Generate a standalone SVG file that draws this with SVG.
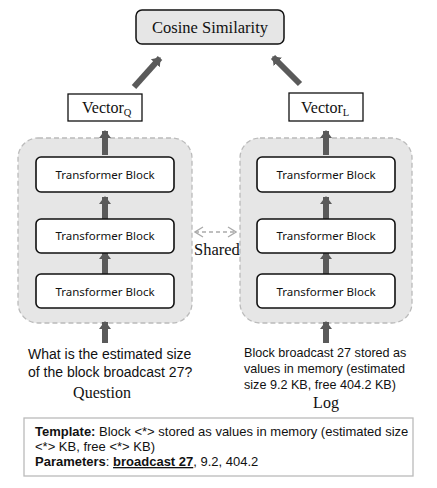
<svg xmlns="http://www.w3.org/2000/svg" width="437" height="488" viewBox="0 0 437 488">
<defs>
<style>
.serif{font-family:"Liberation Serif","Times New Roman",serif;fill:#111}
.sans{font-family:"Liberation Sans",Arial,sans-serif;fill:#111}
.tb{font-family:"Noto Sans","DejaVu Sans",sans-serif;font-size:11.5px;fill:#111}
.blk{fill:#fff;stroke:#111;stroke-width:1.6}
.cont{fill:#e6e6e6;stroke:#bbb;stroke-width:1.3;stroke-dasharray:5 3}
.arr{stroke:#5a5a5a;stroke-width:6;fill:none}
</style>
<marker id="ah" markerUnits="userSpaceOnUse" markerWidth="14" markerHeight="14" viewBox="0 0 14 14" refX="7" refY="7" orient="auto">
<path d="M0,1 L8,7 L0,13 Z" fill="#5a5a5a"/>
</marker>
<marker id="oh" markerUnits="userSpaceOnUse" markerWidth="10" markerHeight="12" viewBox="0 0 10 12" refX="9" refY="6" orient="auto-start-reverse">
<path d="M1,1 L9,6 L1,11" fill="none" stroke="#aaa" stroke-width="1.3"/>
</marker>
</defs>
<rect width="437" height="488" fill="#fff"/>

<g id="container-left"><rect class="cont" x="18" y="138" width="174" height="185" rx="20"/></g>
<g id="container-right"><rect class="cont" x="240" y="138" width="172" height="185" rx="20"/></g>

<g id="connectors">
<line class="arr" x1="134" y1="87" x2="160" y2="58" marker-end="url(#ah)"/>
<line class="arr" x1="300" y1="84" x2="273" y2="57" marker-end="url(#ah)"/>
<line class="arr" x1="105" y1="155" x2="105" y2="131" marker-end="url(#ah)"/>
<line class="arr" x1="326" y1="155" x2="326" y2="131" marker-end="url(#ah)"/>
<line class="arr" x1="105" y1="219" x2="105" y2="197" marker-end="url(#ah)"/>
<line class="arr" x1="326" y1="219" x2="326" y2="197" marker-end="url(#ah)"/>
<line class="arr" x1="105" y1="274" x2="105" y2="252" marker-end="url(#ah)"/>
<line class="arr" x1="326" y1="274" x2="326" y2="252" marker-end="url(#ah)"/>
<line class="arr" x1="105" y1="343" x2="105" y2="322" marker-end="url(#ah)"/>
<line class="arr" x1="326" y1="343" x2="326" y2="322" marker-end="url(#ah)"/>
<line x1="195" y1="232" x2="236" y2="232" stroke="#aaa" stroke-width="1.3" stroke-dasharray="4 3" marker-start="url(#oh)" marker-end="url(#oh)"/>
<text class="serif" x="194" y="255" font-size="16.5">Shared</text>
</g>

<g id="cosine">
<rect x="136" y="10" width="148" height="34" rx="6" fill="#e6e6e6" stroke="#111" stroke-width="1.5"/>
<text class="serif" x="210" y="33" font-size="16.5" text-anchor="middle">Cosine Similarity</text>
</g>

<g id="vector-q">
<rect x="68" y="94" width="74" height="27" fill="#fff" stroke="#111" stroke-width="1.3"/>
<text class="serif" x="82" y="113" font-size="16">Vector<tspan font-size="10.5" dy="3">Q</tspan></text>
</g>
<g id="vector-l">
<rect x="289" y="93" width="74" height="28" fill="#fff" stroke="#111" stroke-width="1.3"/>
<text class="serif" x="301" y="113" font-size="16">Vector<tspan font-size="10.5" dy="3">L</tspan></text>
</g>

<g id="tb-l1"><rect class="blk" x="36" y="157" width="138" height="35" rx="5"/><text class="tb" x="105" y="178.5" text-anchor="middle">Transformer Block</text></g>
<g id="tb-l2"><rect class="blk" x="36" y="219" width="138" height="34" rx="5"/><text class="tb" x="105" y="240" text-anchor="middle">Transformer Block</text></g>
<g id="tb-l3"><rect class="blk" x="36" y="274" width="138" height="34" rx="5"/><text class="tb" x="105" y="295.5" text-anchor="middle">Transformer Block</text></g>
<g id="tb-r1"><rect class="blk" x="257" y="157" width="138" height="35" rx="5"/><text class="tb" x="326" y="178.5" text-anchor="middle">Transformer Block</text></g>
<g id="tb-r2"><rect class="blk" x="257" y="219" width="138" height="34" rx="5"/><text class="tb" x="326" y="240" text-anchor="middle">Transformer Block</text></g>
<g id="tb-r3"><rect class="blk" x="257" y="274" width="138" height="34" rx="5"/><text class="tb" x="326" y="295.5" text-anchor="middle">Transformer Block</text></g>

<g id="question">
<text class="sans" x="28" y="359" font-size="14">What is the estimated size</text>
<text class="sans" x="28" y="377" font-size="14">of the block broadcast 27?</text>
<text class="serif" x="102" y="398" font-size="16" text-anchor="middle">Question</text>
</g>

<g id="log">
<text class="sans" x="244" y="357" font-size="12.6">Block broadcast 27 stored as</text>
<text class="sans" x="244" y="373" font-size="12.6">values in memory (estimated</text>
<text class="sans" x="244" y="389" font-size="12.6">size 9.2 KB, free 404.2 KB)</text>
<text class="serif" x="326" y="408" font-size="16" text-anchor="middle">Log</text>
</g>

<g id="template">
<rect x="24" y="418" width="389" height="58" fill="#fff" stroke="#bbb" stroke-width="1.3"/>
<text class="sans" x="35" y="436" font-size="13"><tspan font-weight="bold">Template:</tspan> Block &lt;*&gt; stored as values in memory (estimated size</text>
<text class="sans" x="35" y="451" font-size="13">&lt;*&gt; KB, free &lt;*&gt; KB)</text>
<text class="sans" x="35" y="466" font-size="13"><tspan font-weight="bold">Parameters</tspan>: <tspan font-weight="bold" text-decoration="underline">broadcast 27</tspan>, 9.2, 404.2</text>
</g>
</svg>
